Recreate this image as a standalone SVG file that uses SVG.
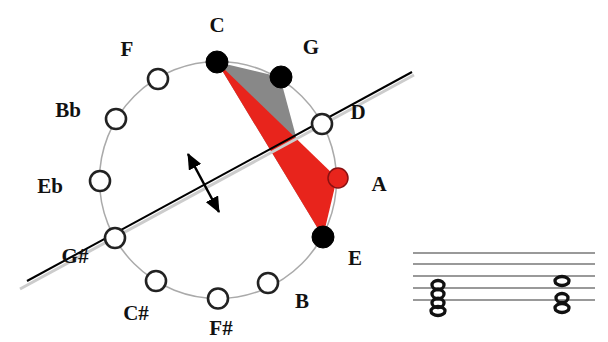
<svg xmlns="http://www.w3.org/2000/svg" width="608" height="342" viewBox="0 0 608 342">
<defs>
<style>
.lbl{font-family:"Liberation Serif","Times New Roman",serif;font-weight:bold;font-size:21px;fill:#111;text-anchor:middle}
.open{fill:#fff;stroke:#222;stroke-width:2.6}
.full{fill:#000;stroke:#000;stroke-width:1}
.staff{stroke:#999;stroke-width:2}
.note{fill:none;stroke:#111;stroke-width:3.3}
</style>
<marker id="ah" viewBox="0 0 16 14" refX="15" refY="7" markerWidth="16" markerHeight="14" orient="auto-start-reverse" markerUnits="userSpaceOnUse">
<path d="M0,0 L16,7 L0,14 z" fill="#000"/>
</marker>
</defs>
<rect width="608" height="342" fill="#fff"/>
<circle cx="218" cy="180" r="118.5" fill="none" stroke="#aaa" stroke-width="1.5"/>
<g id="triangles">
<polygon points="217,62 280,77 323,237" fill="#888"/>
<polygon points="217,62 337,178 323,237" fill="#e8241c"/>
</g>
<g id="connectors">
<line x1="20" y1="289" x2="414" y2="75" stroke="#ccc" stroke-width="3"/>
<line x1="27" y1="281" x2="412" y2="72" stroke="#000" stroke-width="2"/>
<line x1="188" y1="154" x2="219" y2="212" stroke="#000" stroke-width="2.5" marker-start="url(#ah)" marker-end="url(#ah)"/>
</g>
<g id="n-C"><circle class="full" cx="217" cy="62" r="11"/><text class="lbl" x="217" y="32">C</text></g>
<g id="n-G"><circle class="full" cx="281" cy="77" r="11"/><text class="lbl" x="311" y="54">G</text></g>
<g id="n-D"><circle class="open" cx="322" cy="124" r="10"/><text class="lbl" x="358" y="119">D</text></g>
<g id="n-A"><circle cx="338" cy="178" r="10" fill="#e8241c" stroke="#8a1010" stroke-width="1.5"/><text class="lbl" x="379" y="191">A</text></g>
<g id="n-E"><circle class="full" cx="323" cy="237" r="11"/><text class="lbl" x="355" y="265">E</text></g>
<g id="n-B"><circle class="open" cx="268" cy="283" r="10"/><text class="lbl" x="302" y="308">B</text></g>
<g id="n-Fs"><circle class="open" cx="218" cy="298.5" r="10"/><text class="lbl" x="221" y="335">F#</text></g>
<g id="n-Cs"><circle class="open" cx="156" cy="281" r="10"/><text class="lbl" x="136" y="320">C#</text></g>
<g id="n-Gs"><circle class="open" cx="115" cy="238" r="10"/><text class="lbl" x="75" y="263">G#</text></g>
<g id="n-Eb"><circle class="open" cx="100" cy="181" r="10"/><text class="lbl" x="50" y="193">Eb</text></g>
<g id="n-Bb"><circle class="open" cx="116" cy="119" r="10"/><text class="lbl" x="68" y="117">Bb</text></g>
<g id="n-F"><circle class="open" cx="158" cy="79" r="10"/><text class="lbl" x="127" y="56">F</text></g>
<g id="staff">
<line class="staff" x1="413" y1="253" x2="595" y2="253"/>
<line class="staff" x1="413" y1="264" x2="595" y2="264"/>
<line class="staff" x1="413" y1="276" x2="595" y2="276"/>
<line class="staff" x1="413" y1="288" x2="595" y2="288"/>
<line class="staff" x1="413" y1="300" x2="595" y2="300"/>
<ellipse class="note" cx="438" cy="285" rx="6" ry="4.5"/>
<ellipse class="note" cx="438" cy="294" rx="6" ry="4.5"/>
<ellipse class="note" cx="438" cy="303" rx="6" ry="4.5"/>
<ellipse class="note" cx="438" cy="311" rx="7" ry="4.5"/>
<ellipse class="note" cx="562" cy="281" rx="7" ry="4.5"/>
<ellipse class="note" cx="562" cy="298" rx="6" ry="4.5"/>
<ellipse class="note" cx="562" cy="308" rx="7" ry="4.5"/>
</g>
</svg>
